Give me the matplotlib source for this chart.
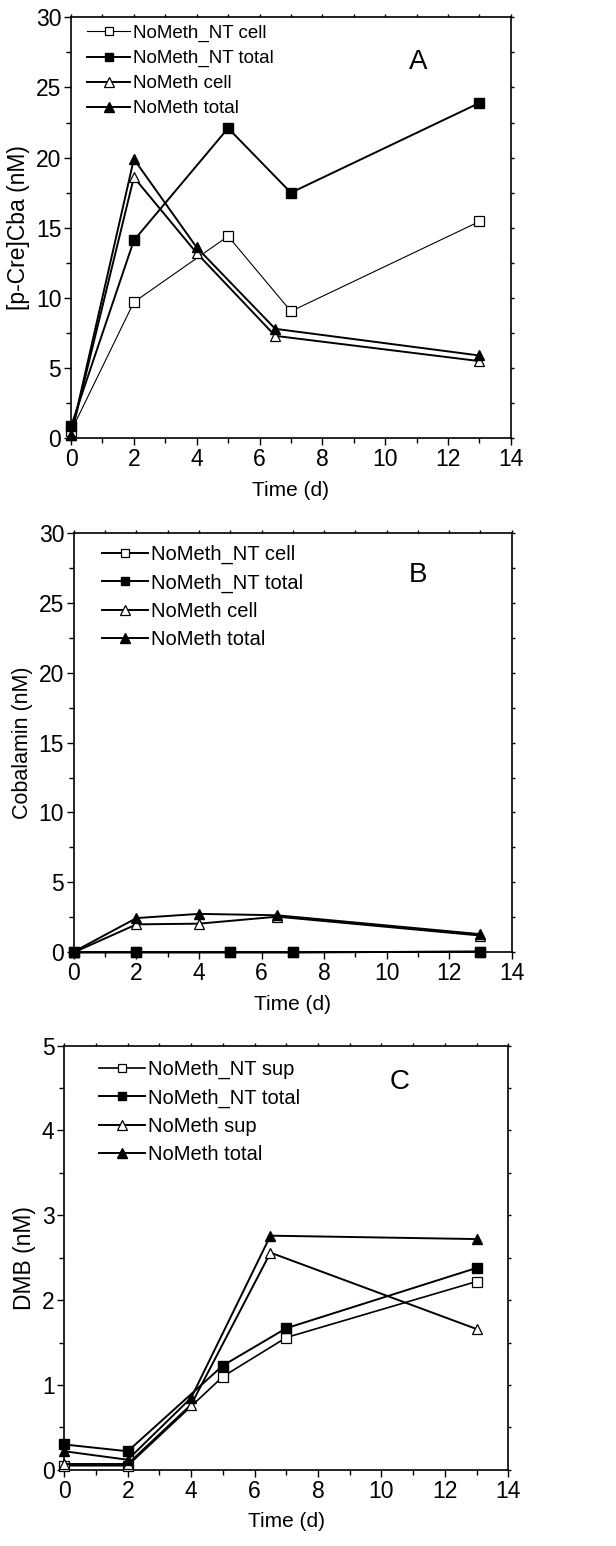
import matplotlib
matplotlib.use('Agg')
import matplotlib.pyplot as plt
import matplotlib.ticker as tck

plt.rcParams['font.family'] = ['Liberation Sans', 'DejaVu Sans']

# ---- data ----
x_nt = [0, 2, 5, 7, 13]
x_nm = [0, 2, 4, 6.5, 13]

# panel A: [p-Cre]Cba
a_nt_cell = [0.5, 9.7, 14.4, 9.05, 15.45]
a_nt_total = [0.85, 14.1, 22.1, 17.5, 23.9]
a_nm_cell = [0.2, 18.6, 13.2, 7.3, 5.5]
a_nm_total = [0.2, 19.9, 13.6, 7.8, 5.9]

# panel B: Cobalamin
b_nt_cell = [0.0, 0.0, 0.0, 0.0, 0.05]
b_nt_total = [0.0, 0.0, 0.0, 0.0, 0.05]
b_nm_cell = [0.0, 2.0, 2.05, 2.55, 1.2]
b_nm_total = [0.05, 2.45, 2.75, 2.65, 1.3]

# panel C: DMB
c_nt_sup = [0.05, 0.05, 1.1, 1.56, 2.22]
c_nt_total = [0.3, 0.22, 1.23, 1.67, 2.38]
c_nm_sup = [0.07, 0.07, 0.77, 2.56, 1.66]
c_nm_total = [0.22, 0.12, 0.85, 2.76, 2.72]

labels_a = ['NoMeth_NT cell', 'NoMeth_NT total', 'NoMeth cell', 'NoMeth total']
labels_c = ['NoMeth_NT sup', 'NoMeth_NT total', 'NoMeth sup', 'NoMeth total']

fig = plt.figure(figsize=(6.16, 15.46), dpi=100)


def style_axes(ax, ymax, ymajor, yminor, xl_size):
    ax.set_xlim(0, 14)
    ax.set_ylim(0, ymax)
    ax.xaxis.set_major_locator(tck.MultipleLocator(2))
    ax.xaxis.set_minor_locator(tck.MultipleLocator(1))
    ax.yaxis.set_major_locator(tck.MultipleLocator(ymajor))
    ax.yaxis.set_minor_locator(tck.MultipleLocator(yminor))
    for s in ax.spines.values():
        s.set_linewidth(1.2)
    ax.tick_params(which='both', direction='out', top=True, right=True, labelsize=16.5, width=1.0, pad=2)
    ax.tick_params(which='major', length=5)
    ax.tick_params(which='minor', length=3.5)
    # tiny ticks on the top / right spines
    for t in ax.xaxis.get_major_ticks() + ax.xaxis.get_minor_ticks():
        t.tick2line.set_markersize(2)
    for t in ax.yaxis.get_major_ticks() + ax.yaxis.get_minor_ticks():
        t.tick2line.set_markersize(2)
    ax.set_xlabel('Time (d)', fontsize=xl_size, labelpad=7)


def draw_panel(rect, s1, s2, s3, s4, labels, ylabel, yl_size, xl_size, letter, ymax, ymajor, yminor,
               letter_pos, leg_fs, leg_x, leg_y, leg_sp, lw_thin):
    ax = fig.add_axes(rect)
    ax.plot(x_nt, s1, '-s', color='black', mfc='white', mec='black', mew=0.9, lw=lw_thin, ms=6.5,
            label=labels[0], clip_on=False, zorder=3)
    ax.plot(x_nt, s2, '-s', color='black', mfc='black', mec='black', lw=1.4, ms=6.5,
            label=labels[1], clip_on=False, zorder=3)
    ax.plot(x_nm, s3, '-^', color='black', mfc='white', mec='black', mew=0.9, lw=1.4, ms=7.5,
            label=labels[2], clip_on=False, zorder=3)
    ax.plot(x_nm, s4, '-^', color='black', mfc='black', mec='black', lw=1.4, ms=7.5,
            label=labels[3], clip_on=False, zorder=3)
    style_axes(ax, ymax, ymajor, yminor, xl_size)
    ax.set_ylabel(ylabel, fontsize=yl_size, labelpad=4)
    ax.legend(loc='upper left', frameon=False, fontsize=leg_fs, handlelength=2.3, handletextpad=0.15,
              labelspacing=leg_sp, borderaxespad=0, borderpad=0.4, markerscale=0.9,
              bbox_to_anchor=(leg_x, leg_y))
    ax.text(letter_pos[0], letter_pos[1], letter, transform=ax.transAxes, fontsize=20,
            ha='center', va='center')
    return ax


draw_panel([0.1153, 0.7165, 0.714, 0.2723], a_nt_cell, a_nt_total, a_nm_cell, a_nm_total,
           labels_a, '[p-Cre]Cba (nM)', 16.5, 15, 'A', 30, 5, 2.5, (0.789, 0.893),
           13.5, 0.02, 1.0, 0.42, 0.8)
draw_panel([0.120, 0.384, 0.7106, 0.2714], b_nt_cell, b_nt_total, b_nm_cell, b_nm_total,
           labels_a, 'Cobalamin (nM)', 15.5, 15, 'B', 30, 5, 2.5, (0.786, 0.899),
           14.5, 0.045, 0.99, 0.45, 1.4)
draw_panel([0.1044, 0.0492, 0.7208, 0.2745], c_nt_sup, c_nt_total, c_nm_sup, c_nm_total,
           labels_c, 'DMB (nM)', 16.5, 15, 'C', 5, 1, 0.5, (0.756, 0.915),
           14.5, 0.06, 0.985, 0.45, 1.2)

plt.savefig('out.png', dpi=100)
